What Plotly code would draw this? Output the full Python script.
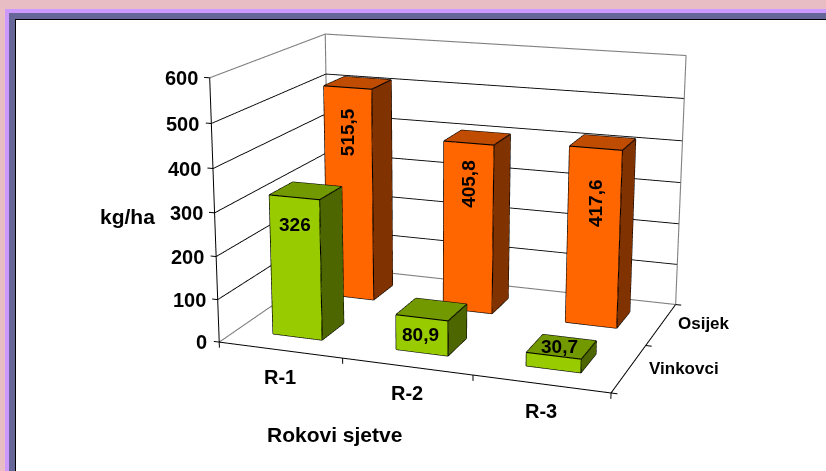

import math
import numpy as np
import plotly.graph_objects as go

# Seed yield per sowing date and location
categories = ["R-1", "R-2", "R-3"]
locations = ["Vinkovci", "Osijek"]
vinkovci = [326, 80.9, 30.7]
osijek = [515.5, 405.8, 417.6]
vinkovci_labels = ["326", "80,9", "30,7"]
osijek_labels = ["515,5", "405,8", "417,6"]
z_ticks = [0, 100, 200, 300, 400, 500, 600]

FONT = "Liberation Sans"
W, H = 826, 471
BAR_HALF_X, BAR_HALF_Y = 0.2026, 0.2004
Z_MAX = 600
PAD = 0.1

# Face colours: front, top, side
GREEN = ("#99CC00", "#739900", "#4D6600")
ORANGE = ("#FF6600", "#BF4C00", "#803300")

# Camera of the box; focal length in pixels sets the field of view
FOCAL = 1700.0
eye = np.array([1.3684, -3.9070, 1.0839])
center = np.array([0.0373, -0.3982, 0.0105])
raw_up = np.array([0.7407, -1.9495, 1.0])
aspect = (1.0, 0.6869, 0.6664)
fwd = (center - eye) / np.linalg.norm(center - eye)
side = np.cross(fwd, raw_up)
side /= np.linalg.norm(side)
up = np.cross(side, fwd)


def box_mesh(i, j, value, colours):
    x0, x1 = i + 0.5 - BAR_HALF_X, i + 0.5 + BAR_HALF_X
    y0, y1 = j + 0.5 - BAR_HALF_Y, j + 0.5 + BAR_HALF_Y
    xs = [x0, x1, x1, x0, x0, x1, x1, x0]
    ys = [y0, y0, y1, y1, y0, y0, y1, y1]
    zs = [0, 0, 0, 0, value, value, value, value]
    tris = [
        (0, 1, 5, 0), (0, 5, 4, 0),  # front
        (4, 5, 6, 1), (4, 6, 7, 1),  # top
        (1, 2, 6, 2), (1, 6, 5, 2),  # right side
        (0, 3, 2, 2), (0, 2, 1, 2),  # floor
        (3, 0, 4, 2), (3, 4, 7, 2),  # left side
        (2, 3, 7, 0), (2, 7, 6, 0),  # back
    ]
    mesh = go.Mesh3d(
        x=xs, y=ys, z=zs,
        i=[t[0] for t in tris], j=[t[1] for t in tris], k=[t[2] for t in tris],
        facecolor=[colours[t[3]] for t in tris],
        flatshading=True,
        lighting=dict(ambient=1, diffuse=0, specular=0, fresnel=0, roughness=1),
        hoverinfo="skip", showscale=False,
    )
    pairs = [(0, 1), (1, 2), (2, 3), (3, 0), (4, 5), (5, 6), (6, 7), (7, 4),
             (0, 4), (1, 5), (2, 6), (3, 7)]
    ex, ey, ez = [], [], []
    for a, b in pairs:
        ex += [xs[a], xs[b], None]
        ey += [ys[a], ys[b], None]
        ez += [zs[a], zs[b], None]
    return mesh, ex, ey, ez


def polyline(segments, color, width):
    xs, ys, zs = [], [], []
    for p, q in segments:
        xs += [p[0], q[0], None]
        ys += [p[1], q[1], None]
        zs += [p[2], q[2], None]
    return go.Scatter3d(x=xs, y=ys, z=zs, mode="lines",
                        line=dict(color=color, width=width),
                        hoverinfo="skip", showlegend=False)


nx, ny = len(categories), len(locations)
fig = go.Figure()

# Bars and their black edges
edge_x, edge_y, edge_z = [], [], []
for j, (vals, cols) in enumerate([(vinkovci, GREEN), (osijek, ORANGE)]):
    for i, v in enumerate(vals):
        mesh, ex, ey, ez = box_mesh(i, j, v, cols)
        fig.add_trace(mesh)
        edge_x += ex
        edge_y += ey
        edge_z += ez
fig.add_trace(go.Scatter3d(x=edge_x, y=edge_y, z=edge_z, mode="lines",
                           line=dict(color="#000000", width=2.2),
                           hoverinfo="skip", showlegend=False))

# Gridlines on the two walls
grid = []
for t in z_ticks[1:-1]:
    grid.append(((0, 0, t), (0, ny, t)))
    grid.append(((0, ny, t), (nx, ny, t)))
fig.add_trace(polyline(grid, "#000000", 1.8))

# Outline of the walls and the far floor edges
outline = [((0, 0, Z_MAX), (0, ny, Z_MAX)), ((0, ny, Z_MAX), (nx, ny, Z_MAX)),
           ((0, ny, 0), (0, ny, Z_MAX)), ((nx, ny, 0), (nx, ny, Z_MAX)),
           ((0, 0, 0), (0, ny, 0)), ((0, ny, 0), (nx, ny, 0))]
fig.add_trace(polyline(outline, "#808080", 2.2))

# Axis lines and tick marks
axes = [((0, 0, 0), (0, 0, Z_MAX)), ((0, 0, 0), (nx, 0, 0)), ((nx, 0, 0), (nx, ny, 0))]
axes += [((-0.045, 0, t), (0, 0, t)) for t in z_ticks]
axes += [((i, 0, -13), (i, 0, 0)) for i in range(nx + 1)]
axes += [((nx, j, 0), (nx + 0.045, j, 0)) for j in range(ny + 1)]
fig.add_trace(polyline(axes, "#000000", 2))

# Text placed at data positions in the scene
annotations = []


def note(x, y, z, text, size, **kw):
    annotations.append(dict(x=x, y=y, z=z, text=text, showarrow=False,
                            font=dict(family=FONT, size=size, color="#000000", weight="bold"),
                            **kw))


for t in z_ticks:
    note(0, 0, t, str(t), 20, xanchor="right", yanchor="middle", xshift=-10)
for i, c in enumerate(categories):
    note(i + 0.5, 0, 0, c, 20, xanchor="center", yanchor="middle", yshift=-27)
location_shift = [(18, 0), (15, 1)]
for j, name in enumerate(locations):
    note(nx, j + 0.5, 0, name, 17, xanchor="left", yanchor="middle",
         xshift=location_shift[j][0], yshift=location_shift[j][1])

front_y = [j + 0.5 - BAR_HALF_Y for j in range(ny)]
shifts_v = [(1, -27), (-1, -17), (6, 9)]
for i, (v, s) in enumerate(zip(vinkovci, vinkovci_labels)):
    note(i + 0.5, front_y[0], v, s, 19, xanchor="center", yanchor="middle",
         xshift=shifts_v[i][0], yshift=shifts_v[i][1])
shifts_o = [(0, -45), (-1, -41), (-1, -55)]
for i, (v, s) in enumerate(zip(osijek, osijek_labels)):
    note(i + 0.5, front_y[1], v, s, 19, xanchor="center", yanchor="middle", textangle=-90,
         xshift=shifts_o[i][0], yshift=shifts_o[i][1])

hidden = dict(visible=False, showgrid=False, showspikes=False, showbackground=False,
              autorange=False)
scale = 1 + 2 * PAD
fig.update_layout(
    width=W, height=H, margin=dict(l=0, r=0, t=0, b=0, pad=0),
    paper_bgcolor="#E8BEC4", showlegend=False,
    scene=dict(
        domain=dict(x=[0, 1], y=[0, 1]),
        bgcolor="rgba(0,0,0,0)",
        xaxis=dict(range=[-PAD * nx, nx + PAD * nx], **hidden),
        yaxis=dict(range=[-PAD * ny, ny + PAD * ny], **hidden),
        zaxis=dict(range=[-PAD * Z_MAX, Z_MAX + PAD * Z_MAX], **hidden),
        aspectmode="manual",
        aspectratio=dict(x=aspect[0] * scale, y=aspect[1] * scale, z=aspect[2] * scale),
        camera=dict(
            eye=dict(x=eye[0], y=eye[1], z=eye[2]),
            center=dict(x=center[0], y=center[1], z=center[2]),
            up=dict(x=up[0], y=up[1], z=up[2]),
        ),
        annotations=annotations,
    ),
)

# Slide frame: nested rectangles running off the top-right of the page


def rect(x0, y0, color):
    fig.add_shape(type="rect", xref="paper", yref="paper", layer="below",
                  x0=x0 / W, x1=1.02, y0=-0.02, y1=1 - y0 / H,
                  fillcolor=color, line=dict(width=0))


rect(5, 9, "#CC99FF")
rect(9, 13, "#666699")
rect(15, 19, "#000000")
rect(16, 20, "#FFFFFF")

for text, px, py, size in [("kg/ha", 127, 216, 21), ("Rokovi sjetve", 334.5, 434, 21)]:
    fig.add_annotation(text=text, xref="paper", yref="paper", x=px / W, y=1 - py / H,
                       xanchor="center", yanchor="middle", showarrow=False,
                       font=dict(family=FONT, size=size, color="#000000", weight="bold"))

# Narrow the field of view once the scene exists
narrow = f"""
var gd = document.getElementById('{{plot_id}}');
(function apply() {{
  var s = gd._fullLayout && gd._fullLayout.scene && gd._fullLayout.scene._scene;
  if (!s || !s.glplot) {{ setTimeout(apply, 20); return; }}
  s.glplot.fovy = {2 * math.atan(H / 2 / FOCAL)};
  s.glplot.redraw();
}})();
"""
fig.write_html("out.html", post_script=narrow, config=dict(displayModeBar=False))
